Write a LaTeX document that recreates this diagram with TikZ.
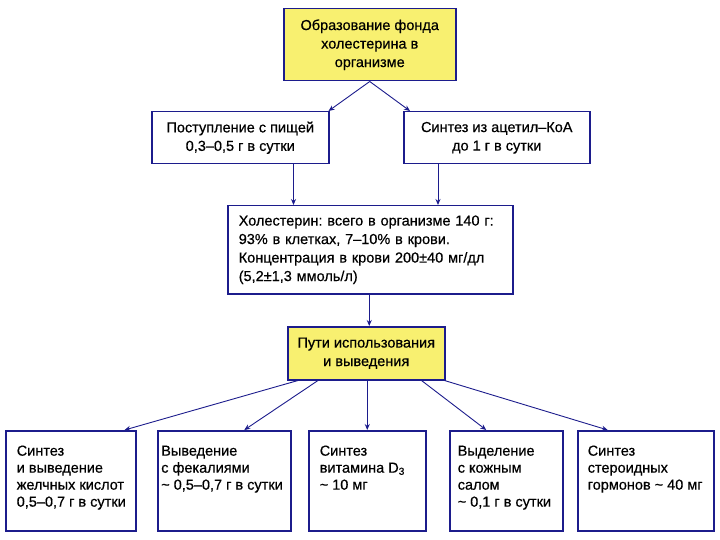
\documentclass[tikz,border=0pt]{standalone}
\usepackage{fontspec}
\setmainfont{Liberation Sans}[FakeBold=0.5]
\usetikzlibrary{arrows.meta}
\frenchspacing
\definecolor{edgeblue}{RGB}{28,28,140}
\definecolor{boxyellow}{RGB}{248,240,112}
\newcommand{\cell}[2]{\parbox[t][74pt][t]{#1}{\begin{tabular}[t]{@{}l@{}}#2\end{tabular}}}
\tikzset{
    > = {Stealth[length = 6pt, width = 5pt]},
    box/.style = {draw = edgeblue, line width = 1.5pt, fill = white, anchor = north west,
        inner ysep = 0pt, font = \fontsize{14.5}{18.5}\selectfont},
    yellowbox/.style = {box, fill = boxyellow, align = center},
    leaf/.style = {box, inner ysep = 13pt, font = \fontsize{14.5}{17}\selectfont},
    link/.style = {->, draw = edgeblue, line width = 0.9pt}
}

\begin{document}
\begin{tikzpicture}[x = 1pt, y = -1pt]
    \useasboundingbox (0, 0) rectangle (720, 540);

    \node[yellowbox, minimum width = 172, minimum height = 72] (pool) at (283, 8)
        {Образование фонда\\холестерина в\\организме};
    \node[box, align = center, minimum width = 177, minimum height = 52] (food) at (151, 111)
        {Поступление с пищей\\0,3–0,5 г в сутки};
    \node[box, align = center, minimum width = 186, minimum height = 52] (acet) at (403, 111)
        {Синтез из ацетил–КоА\\до 1 г в сутки};
    \node[box, align = left, text width = 263, inner xsep = 11, minimum height = 88] (total) at (227, 205)
        {Холестерин: всего в организме 140 г:\\93\% в клетках, 7–10\% в крови.\\Концентрация в крови 200±40 мг/дл\\(5,2±1,3 ммоль/л)};
    \node[yellowbox, minimum width = 157, minimum height = 53] (ways) at (287, 326)
        {Пути использования\\и выведения};

    \node[leaf, inner xsep = 11] (bile) at (5, 430)
        {\cell{108pt}{Синтез\\и выведение\\желчных кислот\\0,5–0,7 г в сутки}};
    \node[leaf, inner xsep = 3.5] (feces) at (157, 430)
        {\cell{126pt}{Выведение\\с фекалиями\\\textasciitilde{} 0,5–0,7 г в сутки}};
    \node[leaf, inner xsep = 11] (vitd) at (308, 430)
        {\cell{95pt}{Синтез\\витамина D\textsubscript{3}\\\textasciitilde{} 10 мг}};
    \node[leaf, inner xsep = 8] (skin) at (449, 430)
        {\cell{97pt}{Выделение\\с кожным\\салом\\\textasciitilde{} 0,1 г в сутки}};
    \node[leaf, inner xsep = 10] (ster) at (577, 430)
        {\cell{116pt}{Синтез\\стероидных\\гормонов \textasciitilde{} 40 мг}};

    \draw[link] (pool.south) -- ([xshift = -1]food.north east);
    \draw[link] (pool.south) -- ([xshift = 7]acet.north west);
    \draw[link] ([xshift = -36]food.south east) -- ([xshift = -36]food.south east |- total.north);
    \draw[link] ([xshift = 35]acet.south west) -- ([xshift = 35]acet.south west |- total.north);
    \draw[link] ([xshift = -1]total.south) -- ([xshift = -1]total.south |- ways.north);

    \draw[link] ([xshift = 11]ways.south west) -- ([xshift = -12]bile.north east);
    \draw[link] ([xshift = 31]ways.south west) -- ([xshift = 20]feces.north);
    \draw[link] (ways.south -| vitd.north) -- (vitd.north);
    \draw[link] ([xshift = -24]ways.south east) -- ([xshift = -20]skin.north);
    \draw[link] ([xshift = -1]ways.south east) -- ([xshift = -38]ster.north);
\end{tikzpicture}
\end{document}
